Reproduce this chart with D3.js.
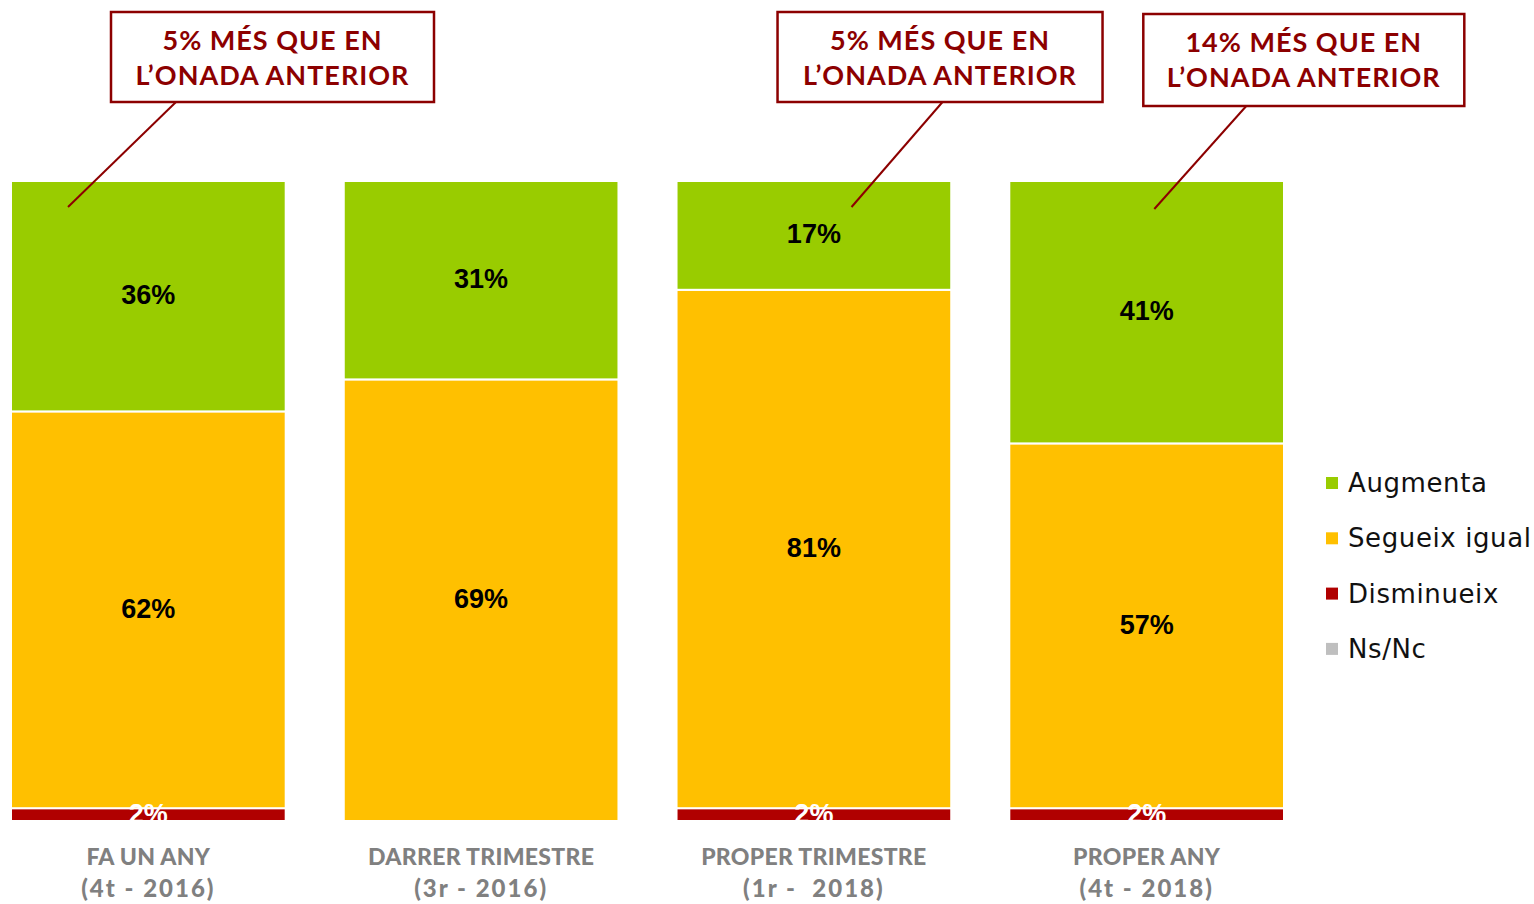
<!DOCTYPE html>
<html lang="ca">
<head>
<meta charset="utf-8">
<script src="https://d3js.org/d3.v7.min.js"></script>
<style>
  body { margin: 0; background: #ffffff; }
  .seglabel { font-family: "Liberation Sans", Arial, sans-serif; font-weight: bold; font-size: 27px; }
  .catlabel { font-family: Lato, "Open Sans", sans-serif; font-weight: 900; font-size: 23px; fill: #808080; letter-spacing: 0.3px; }
  .catlabel .second { letter-spacing: 2px; font-size: 24px; }
  .legtext { font-family: "DejaVu Sans", sans-serif; font-size: 26px; fill: #111111; letter-spacing: 0.6px; }
  .callout { font-family: Lato, "Open Sans", sans-serif; font-weight: bold; font-size: 27px; fill: #8c0000; letter-spacing: 1px; }
</style>
</head>
<body>
<div id="chart"></div>
<script>
// values (percent of answers)
var catTop = ["FA UN ANY", "DARRER TRIMESTRE", "PROPER TRIMESTRE", "PROPER ANY"];
var catBottom = ["(4t - 2016)", "(3r - 2016)", "(1r -  2018)", "(4t - 2018)"];
var seriesNames = ["Augmenta", "Segueix igual", "Disminueix", "Ns/Nc"];
var augmenta = [36, 31, 17, 41];
var segueix = [62, 69, 81, 57];
var disminueix = [2, 0, 2, 2];
var nsnc = [0, 0, 0, 0];
var calloutBars = [0, 2, 3];
var calloutTexts = [
  ["5% MÉS QUE EN", "L’ONADA ANTERIOR"],
  ["5% MÉS QUE EN", "L’ONADA ANTERIOR"],
  ["14% MÉS QUE EN", "L’ONADA ANTERIOR"]
];

var colors = {"Augmenta": "#99cc00", "Segueix igual": "#ffc000", "Disminueix": "#b00000", "Ns/Nc": "#bfbfbf"};
var labelColors = {"Augmenta": "#000000", "Segueix igual": "#000000", "Disminueix": "#ffffff", "Ns/Nc": "#000000"};

var width = 1534, height = 904;

var table = catTop.map(function(c, i) {
  return {cat: c, "Augmenta": augmenta[i], "Segueix igual": segueix[i], "Disminueix": disminueix[i], "Ns/Nc": nsnc[i]};
});

// bottom to top
var stack = d3.stack().keys(["Ns/Nc", "Disminueix", "Segueix igual", "Augmenta"]);
var layers = stack(table);

var svg = d3.select("#chart")
  .append("svg")
    .attr("width", width)
    .attr("height", height);

var x = d3.scaleBand().domain(catTop).range([11, 1284]).paddingInner(0.1745).paddingOuter(0);
var y = d3.scaleLinear().domain([0, 100]).range([821, 181]);

svg.append("clipPath")
    .attr("id", "plotclip")
  .append("rect")
    .attr("x", 0)
    .attr("y", 0)
    .attr("width", 1300)
    .attr("height", y(0));

var plot = svg.append("g").attr("clip-path", "url(#plotclip)");

var layerG = plot.selectAll(".layer")
  .data(layers)
  .enter()
  .append("g")
    .attr("class", "layer")
    .attr("fill", function(d) { return colors[d.key]; });

layerG.selectAll("rect")
  .data(function(d) { return d.filter(function(p) { return p[1] - p[0] > 0; }); })
  .enter()
  .append("rect")
    .attr("x", function(d) { return x(d.data.cat); })
    .attr("y", function(d) { return y(d[1]); })
    .attr("width", x.bandwidth())
    .attr("height", function(d) { return y(d[0]) - y(d[1]); })
    .attr("stroke", "#ffffff")
    .attr("stroke-width", 2);

// segment labels
layers.forEach(function(layer) {
  plot.append("g").selectAll("text")
    .data(layer.filter(function(p) { return p[1] - p[0] > 0; }))
    .enter()
    .append("text")
      .attr("class", "seglabel")
      .attr("x", function(d) { return x(d.data.cat) + x.bandwidth() / 2; })
      .attr("y", function(d) { return y((d[0] + d[1]) / 2) - 1; })
      .attr("text-anchor", "middle")
      .attr("dominant-baseline", "central")
      .attr("fill", labelColors[layer.key])
      .text(function(d) { return (d[1] - d[0]) + "%"; });
});

// category labels under the bars
var cats = svg.append("g").selectAll("text")
  .data(catTop)
  .enter()
  .append("text")
    .attr("class", "catlabel")
    .attr("text-anchor", "middle")
    .attr("transform", function(d) { return "translate(" + (x(d) + x.bandwidth() / 2) + ",0)"; });
cats.append("tspan")
    .attr("x", 0)
    .attr("y", 865)
    .text(function(d) { return d; });
cats.append("tspan")
    .attr("class", "second")
    .attr("x", 0)
    .attr("y", 897)
    .attr("xml:space", "preserve")
    .style("white-space", "pre")
    .text(function(d, i) { return catBottom[i]; });

// legend
var legend = svg.append("g").selectAll("g")
  .data(seriesNames)
  .enter()
  .append("g")
    .attr("transform", function(d, i) { return "translate(1326," + (483 + i * 55.3) + ")"; });
legend.append("rect")
    .attr("x", 0)
    .attr("y", -6)
    .attr("width", 12)
    .attr("height", 12)
    .attr("fill", function(d) { return colors[d]; });
legend.append("text")
    .attr("class", "legtext")
    .attr("x", 22)
    .attr("y", 0)
    .attr("dominant-baseline", "central")
    .text(function(d) { return d; });

// callout boxes with leader lines
var calloutLayout = [
  {dx: 100, top: 12, w: 323, h: 90, from: 65, toX: 57, toY: 26},
  {dx: 101, top: 12, w: 325, h: 90, from: 165, toX: 175, toY: 26},
  {dx: 134, top: 14, w: 321, h: 92, from: 103, toX: 145, toY: 28}
];

calloutBars.forEach(function(b, i) {
  var lay = calloutLayout[i];
  var bx = x(catTop[b]);
  var left = bx + lay.dx;
  var g = svg.append("g");
  g.append("line")
      .attr("x1", left + lay.from)
      .attr("y1", lay.top + lay.h)
      .attr("x2", bx + lay.toX)
      .attr("y2", y(100) + lay.toY)
      .attr("stroke", "#8c0000")
      .attr("stroke-width", 2);
  g.append("rect")
      .attr("x", left)
      .attr("y", lay.top)
      .attr("width", lay.w)
      .attr("height", lay.h)
      .attr("fill", "#ffffff")
      .attr("stroke", "#8c0000")
      .attr("stroke-width", 2.5);
  calloutTexts[i].forEach(function(t, j) {
    g.append("text")
        .attr("class", "callout")
        .attr("x", left + lay.w / 2)
        .attr("y", lay.top + 27 + j * 35)
        .attr("text-anchor", "middle")
        .attr("dominant-baseline", "central")
        .text(t);
  });
});
</script>
</body>
</html>
